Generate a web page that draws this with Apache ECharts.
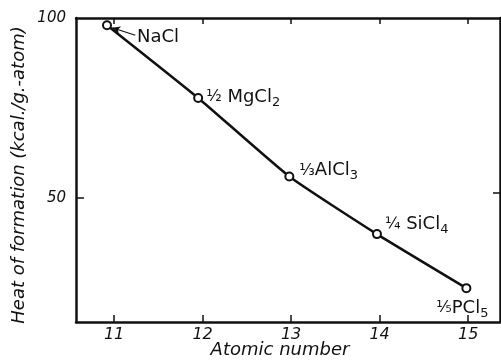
<!DOCTYPE html>
<html>
<head>
<meta charset="utf-8">
<script src="https://cdn.jsdelivr.net/npm/echarts@6/dist/echarts.min.js"></script>
<style>
  html, body { margin: 0; padding: 0; background: #fff; }
  #chart { width: 501px; height: 363px; }
</style>
</head>
<body>
<div id="chart"></div>
<script>
// atomic number of the metal / heat of formation per g-atom
var atomicNumber = [10.92, 11.95, 12.98, 13.97, 14.98];
var heatOfFormation = [98, 77.8, 56, 40, 25];
var compoundLabels = [
    '{t|NaCl}',
    '{f|½}{t| MgCl}{s|2}',
    '{f|⅓}{t|AlCl}{s|3}',
    '{f|¼}{t| SiCl}{s|4}',
    '{f|⅕}{t|PCl}{s|5}'
];
var xTicks = [11, 12, 13, 14, 15];
var yTicks = [50, 100];
// little arrow pointing at NaCl
var arrowFrom = [11.24, 95.2];
var arrowTo = [10.98, 97.3];

var labelPlace = [
    { position: 'right', offset: [22, 12] },
    { position: 'right', offset: [0, -1] },
    { position: 'right', offset: [2, -6] },
    { position: 'right', offset: [0, -10] },
    { position: 'bottom', offset: [-4, 0] }
];

var rich = {
    t: { fontSize: 18, lineHeight: 24, verticalAlign: 'middle', color: '#111', fontFamily: 'DejaVu Sans' },
    s: { fontSize: 13, lineHeight: 24, verticalAlign: 'bottom', color: '#111', fontFamily: 'DejaVu Sans' },
    f: { fontSize: 16, lineHeight: 24, verticalAlign: 'middle', color: '#111', fontFamily: 'DejaVu Sans' }
};

var points = atomicNumber.map(function (x, i) {
    return {
        value: [x, heatOfFormation[i]],
        label: {
            show: true,
            position: labelPlace[i].position,
            offset: labelPlace[i].offset,
            distance: 3,
            formatter: compoundLabels[i],
            rich: rich
        }
    };
});

var axisFont = { fontFamily: 'DejaVu Sans', fontStyle: 'italic', color: '#111' };
var line = { color: '#111', width: 2.5 };

var myChart = echarts.init(document.getElementById('chart'));
var option = {
    animation: false,
    backgroundColor: '#fff',
    grid: { left: 76, right: 1, top: 18, bottom: 41, outerBoundsMode: 'none', containLabel: false },
    xAxis: [
        {
            type: 'value', position: 'bottom', min: 10.57, max: 15.36,
            name: 'Atomic number', nameLocation: 'middle', nameGap: 19, nameMoveOverlap: false,
            nameTextStyle: { fontSize: 18, fontFamily: 'DejaVu Sans', fontStyle: 'italic', color: '#111', padding: [0, 16, 0, 0] },
            axisLine: { show: true, onZero: false, lineStyle: line },
            axisTick: { show: true, inside: true, length: 7, customValues: xTicks, lineStyle: { color: '#111', width: 1.5 } },
            axisLabel: { customValues: xTicks, fontSize: 16, margin: 5, formatter: '{value}', ...axisFont },
            splitLine: { show: false }
        },
        {
            type: 'value', position: 'top', min: 10.57, max: 15.36,
            axisLine: { show: true, onZero: false, lineStyle: line },
            axisTick: { show: true, inside: true, length: 6, customValues: xTicks, lineStyle: { color: '#111', width: 1.5 } },
            axisLabel: { show: false },
            splitLine: { show: false }
        }
    ],
    yAxis: [
        {
            type: 'value', position: 'left', min: 15.6, max: 100,
            name: 'Heat of formation (kcal./g.-atom)', nameLocation: 'middle', nameGap: 48, nameRotate: 90,
            nameMoveOverlap: false,
            nameTextStyle: { fontSize: 18, fontFamily: 'DejaVu Sans', fontStyle: 'italic', color: '#111', padding: [0, 10, 0, 0] },
            axisLine: { show: true, onZero: false, lineStyle: line },
            axisTick: { show: true, inside: true, length: 8, customValues: [50], lineStyle: { color: '#111', width: 1.5 } },
            axisLabel: { customValues: yTicks, fontSize: 15, margin: 10, ...axisFont },
            splitLine: { show: false }
        },
        {
            type: 'value', position: 'right', min: 15.6, max: 100,
            axisLine: { show: true, onZero: false, lineStyle: line },
            axisTick: { show: true, inside: true, length: 7, customValues: [51.5], lineStyle: { color: '#111', width: 1.5 } },
            axisLabel: { show: false },
            splitLine: { show: false }
        }
    ],
    series: [
        {
            type: 'line',
            data: points,
            smooth: 0.15,
            symbol: 'emptyCircle',
            symbolSize: 8,
            itemStyle: { color: '#111', borderColor: '#111', borderWidth: 1.5 },
            lineStyle: { color: '#111', width: 2.5 },
            z: 3,
            markLine: {
                silent: true,
                symbol: ['none', 'arrow'],
                symbolSize: [6, 8],
                label: { show: false },
                lineStyle: { color: '#111', width: 1.2, type: 'solid' },
                data: [[{ coord: arrowFrom }, { coord: arrowTo }]]
            }
        }
    ]
};
myChart.setOption(option);
</script>
</body>
</html>
